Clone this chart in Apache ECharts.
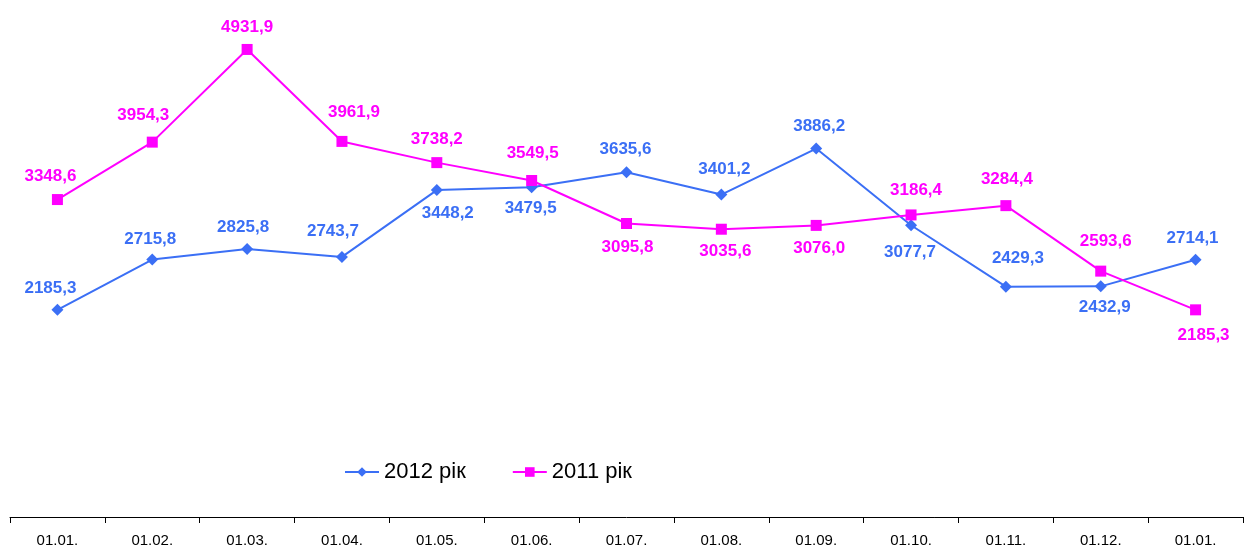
<!DOCTYPE html>
<html>
<head>
<meta charset="utf-8">
<script src="https://cdn.jsdelivr.net/npm/echarts@6/dist/echarts.min.js"></script>
<style>
	html, body { margin: 0; padding: 0; background: #fff; }
	#chart { width: 1246px; height: 548px; }
</style>
</head>
<body>
<div id="chart"></div>
<script>
var categories = ['01.01.', '01.02.', '01.03.', '01.04.', '01.05.', '01.06.', '01.07.', '01.08.', '01.09.', '01.10.', '01.11.', '01.12.', '01.01.'];
var values2012 = [2185.3, 2715.8, 2825.8, 2743.7, 3448.2, 3479.5, 3635.6, 3401.2, 3886.2, 3077.7, 2429.3, 2432.9, 2714.1];
var values2011 = [3348.6, 3954.3, 4931.9, 3961.9, 3738.2, 3549.5, 3095.8, 3035.6, 3076.0, 3186.4, 3284.4, 2593.6, 2185.3];
// label shift from the point, px ([dx, dy])
var labelShift2012 = [[-7, -22], [-2, -20], [-4, -22], [-9, -26], [11, 23], [-1, 21], [-1, -23], [3, -25], [3, -22], [-1, 27], [12, -28], [4, 21], [-3, -21]];
var labelShift2011 = [[-7, -23], [-9, -27], [0, -22], [12, -29], [0, -23], [1, -27], [1, 24], [4, 22], [3, 23], [5, -25], [1, -26], [5, -30], [8, 25]];

var colors = {
	s2012: '#3b6ff5',
	s2011: '#ff00ff',
	axis: '#000000'
};

var fontFamily = 'Liberation Sans, Arial, sans-serif';

function fmt(v) {
	return v.toFixed(1).replace('.', ',');
}

function buildData(values, shifts) {
	var out = [];
	for (var i = 0; i < values.length; i++) {
		out.push({
			value: values[i],
			label: { position: 'inside', offset: shifts[i] }
		});
	}
	return out;
}

function makeSeries(name, values, shifts, color, symbol) {
	return {
		name: name,
		type: 'line',
		data: buildData(values, shifts),
		symbol: symbol,
		symbolSize: symbol === 'diamond' ? 12 : 11,
		showAllSymbol: true,
		animation: false,
		lineStyle: { width: 2, color: color },
		itemStyle: { color: color },
		label: {
			show: true,
			color: color,
			fontFamily: fontFamily,
			fontWeight: 'bold',
			fontSize: 17,
			formatter: function (p) { return fmt(p.value); }
		}
	};
}

var chart = echarts.init(document.getElementById('chart'));
chart.setOption({
	animation: false,
	grid: { left: 10, right: 3, top: 43, bottom: 30, containLabel: false },
	legend: {
		left: 339,
		top: 456,
		itemWidth: 34,
		itemHeight: 12,
		itemGap: 46,
		textStyle: { fontFamily: fontFamily, fontSize: 22, color: '#000' },
		data: ['2012 рік', '2011 рік']
	},
	xAxis: {
		type: 'category',
		data: categories,
		boundaryGap: true,
		axisLine: { lineStyle: { color: colors.axis, width: 1 } },
		axisTick: { show: true, length: 6, lineStyle: { color: colors.axis } },
		axisLabel: { color: '#000', fontFamily: fontFamily, fontSize: 15, margin: 16 }
	},
	yAxis: {
		type: 'value',
		min: 0,
		max: 5000,
		interval: 1000,
		show: false,
		splitLine: { show: false }
	},
	series: [
		makeSeries('2012 рік', values2012, labelShift2012, colors.s2012, 'diamond'),
		makeSeries('2011 рік', values2011, labelShift2011, colors.s2011, 'rect')
	]
});
</script>
</body>
</html>
